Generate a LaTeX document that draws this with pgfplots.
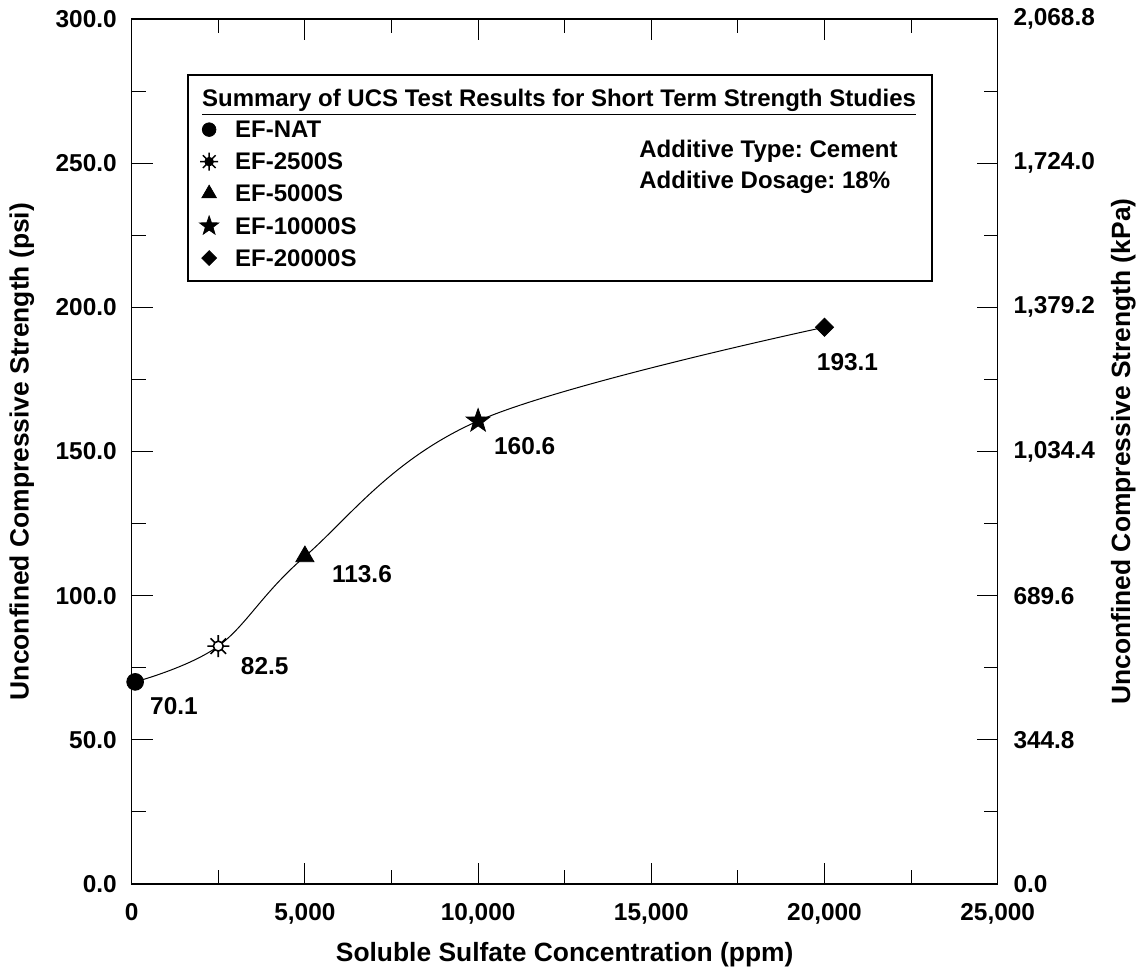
\documentclass[border=0pt]{standalone}
\usepackage{pgfplots}
\pgfplotsset{compat=1.18}
\usepackage{fontspec}
\setmainfont{Liberation Sans}
\frenchspacing

\pgfdeclareplotmark{sun}{%
  \pgfpathcircle{\pgfpointorigin}{0.45\pgfplotmarksize}%
  \pgfusepathqfillstroke
  \pgfpathmoveto{\pgfqpoint{0.45\pgfplotmarksize}{0pt}}\pgfpathlineto{\pgfqpoint{\pgfplotmarksize}{0pt}}%
  \pgfpathmoveto{\pgfqpoint{-0.45\pgfplotmarksize}{0pt}}\pgfpathlineto{\pgfqpoint{-\pgfplotmarksize}{0pt}}%
  \pgfpathmoveto{\pgfqpoint{0pt}{0.45\pgfplotmarksize}}\pgfpathlineto{\pgfqpoint{0pt}{\pgfplotmarksize}}%
  \pgfpathmoveto{\pgfqpoint{0pt}{-0.45\pgfplotmarksize}}\pgfpathlineto{\pgfqpoint{0pt}{-\pgfplotmarksize}}%
  \pgfpathmoveto{\pgfqpoint{0.318\pgfplotmarksize}{0.318\pgfplotmarksize}}\pgfpathlineto{\pgfqpoint{0.707\pgfplotmarksize}{0.707\pgfplotmarksize}}%
  \pgfpathmoveto{\pgfqpoint{-0.318\pgfplotmarksize}{0.318\pgfplotmarksize}}\pgfpathlineto{\pgfqpoint{-0.707\pgfplotmarksize}{0.707\pgfplotmarksize}}%
  \pgfpathmoveto{\pgfqpoint{0.318\pgfplotmarksize}{-0.318\pgfplotmarksize}}\pgfpathlineto{\pgfqpoint{0.707\pgfplotmarksize}{-0.707\pgfplotmarksize}}%
  \pgfpathmoveto{\pgfqpoint{-0.318\pgfplotmarksize}{-0.318\pgfplotmarksize}}\pgfpathlineto{\pgfqpoint{-0.707\pgfplotmarksize}{-0.707\pgfplotmarksize}}%
  \pgfusepathqstroke
}
\pgfdeclareplotmark{fstar}{%
  \pgfpathmoveto{\pgfpointpolar{90}{\pgfplotmarksize}}%
  \pgfpathlineto{\pgfpointpolar{126}{0.4\pgfplotmarksize}}%
  \pgfpathlineto{\pgfpointpolar{162}{\pgfplotmarksize}}%
  \pgfpathlineto{\pgfpointpolar{198}{0.4\pgfplotmarksize}}%
  \pgfpathlineto{\pgfpointpolar{234}{\pgfplotmarksize}}%
  \pgfpathlineto{\pgfpointpolar{270}{0.4\pgfplotmarksize}}%
  \pgfpathlineto{\pgfpointpolar{306}{\pgfplotmarksize}}%
  \pgfpathlineto{\pgfpointpolar{342}{0.4\pgfplotmarksize}}%
  \pgfpathlineto{\pgfpointpolar{18}{\pgfplotmarksize}}%
  \pgfpathlineto{\pgfpointpolar{54}{0.4\pgfplotmarksize}}%
  \pgfpathclose
  \pgfusepathqfillstroke
}

\newcommand{\tickfont}{\fontsize{12.2}{14}\selectfont\bfseries}
\newcommand{\labfont}{\fontsize{13.2}{15}\selectfont\bfseries}

\begin{document}
\begin{tikzpicture}
\begin{axis}[
  scale only axis, width=433pt, height=432.5pt,
  xmin=0, xmax=25000, ymin=0, ymax=300,
  xtick={0,5000,...,25000}, ytick={0,50,...,300},
  minor x tick num=1, minor y tick num=1,
  major tick length=10.5pt, minor tick length=7pt,
  tick align=inside,
  scaled ticks=false,
  /pgf/number format/assume math mode=true,
  ticklabel style={font=\tickfont},
  yticklabel style={/pgf/number format/fixed, /pgf/number format/fixed zerofill, /pgf/number format/precision=1,
    anchor=east, inner sep=0pt, xshift=-7.3pt},
  xticklabel style={/pgf/number format/1000 sep={,}, anchor=north, inner sep=0pt, yshift=-9.5pt},
  every tick/.style={black, line width=0.5pt},
  axis line style={line width=0.6pt},
  clip=false,
  legend style={at={(axis cs:1950,265.1)}, anchor=north west, draw=none, fill=none,
    inner sep=0pt, font=\fontsize{12}{14}\selectfont\bfseries, row sep=4pt,
    nodes={inner sep=0pt, text height=8.8pt, text depth=3.2pt}},
  legend cell align=left,
  legend image code/.code={\path[draw=none,fill=none] (0pt,-6pt) rectangle (17pt,6pt); \draw[#1] plot coordinates {(4pt,1.2pt)};},
]
\addplot[black, line width=0.5pt, smooth, tension=0.6, forget plot] coordinates {
  (100,70.1) (2500,82.5) (5000,113.6) (10000,160.6) (20000,193.1)};
\addplot[only marks, mark=*, mark size=4.2pt, black, forget plot] coordinates {(100,70.1)};
\addplot[only marks, mark=sun, mark size=5.5pt, black, line width=0.8pt, mark options={fill=white}, forget plot] coordinates {(2500,82.5)};
\addplot[only marks, mark=triangle*, mark size=5.2pt, black, forget plot] coordinates {(5000,113.6)};
\addplot[only marks, mark=fstar, mark size=6.2pt, black, mark options={fill=black}, forget plot] coordinates {(10000,160.6)};
\addplot[only marks, mark=square*, mark size=3.2pt, black, mark options={rotate=45}, forget plot] coordinates {(20000,193.1)};

\addlegendimage{only marks, mark=*, mark size=3.4pt, black}
\addlegendentry{EF-NAT}
\addlegendimage{only marks, mark=sun, mark size=4.5pt, black, line width=0.7pt, mark options={fill=black}}
\addlegendentry{EF-2500S}
\addlegendimage{only marks, mark=triangle*, mark size=4.2pt, black}
\addlegendentry{EF-5000S}
\addlegendimage{only marks, mark=fstar, mark size=5pt, black, mark options={fill=black}}
\addlegendentry{EF-10000S}
\addlegendimage{only marks, mark=square*, mark size=2.6pt, black, mark options={rotate=45}}
\addlegendentry{EF-20000S}

\draw[line width=0.6pt] (axis cs:1625,209.1) rectangle (axis cs:23103,280.6);
\node[anchor=west, inner sep=0pt, font=\fontsize{12}{14}\selectfont\bfseries] at (axis cs:2021,271.2) {\underline{Summary of UCS Test Results for Short Term Strength Studies}};
\node[anchor=west, inner sep=0pt, font=\fontsize{12}{14}\selectfont\bfseries] at (axis cs:14645,254.2) {Additive Type: Cement};
\node[anchor=west, inner sep=0pt, font=\fontsize{12}{14}\selectfont\bfseries] at (axis cs:14645,243.5) {Additive Dosage: 18\%};

\node[font=\tickfont] at (axis cs:1221,61.8) {70.1};
\node[font=\tickfont] at (axis cs:3840,75.6) {82.5};
\node[font=\tickfont] at (axis cs:6648,107.5) {113.6};
\node[font=\tickfont] at (axis cs:11345,152.0) {160.6};
\node[font=\tickfont] at (axis cs:20664,181.1) {193.1};

\node[rotate=90, font=\labfont] at (axis description cs:-0.1267,0.5) {Unconfined Compressive Strength (psi)};
\node[rotate=90, font=\labfont] at (axis description cs:1.145,0.5) {Unconfined Compressive Strength (kPa)};
\node[font=\labfont] at (axis description cs:0.5,-0.0821) {Soluble Sulfate Concentration (ppm)};

\coordinate (SW) at (rel axis cs:0,0);
\coordinate (NE) at (rel axis cs:1,1);
\end{axis}
\begin{axis}[
  scale only axis, width=433pt, height=432.5pt,
  xmin=0, xmax=25000, ymin=0, ymax=2068.8,
  hide x axis,
  axis y line*=right,
  axis line style={draw=none},
  ytick={0,344.8,689.6,1034.4,1379.2,1724.0,2068.8},
  major tick length=0pt, minor tick num=0,
  ytick style={draw=none},
  /pgf/number format/assume math mode=true,
  yticklabel style={font=\tickfont, anchor=west, inner sep=0pt, xshift=7.7pt,
    /pgf/number format/fixed, /pgf/number format/fixed zerofill, /pgf/number format/precision=1, /pgf/number format/1000 sep={,}},
]
\addplot[draw=none, forget plot] coordinates {(0,0)};
\end{axis}
\pgfresetboundingbox
\path[use as bounding box] ([xshift=-65.85pt,yshift=-43pt]SW) rectangle ([xshift=72.15pt,yshift=9.5pt]NE);
\end{tikzpicture}
\end{document}
